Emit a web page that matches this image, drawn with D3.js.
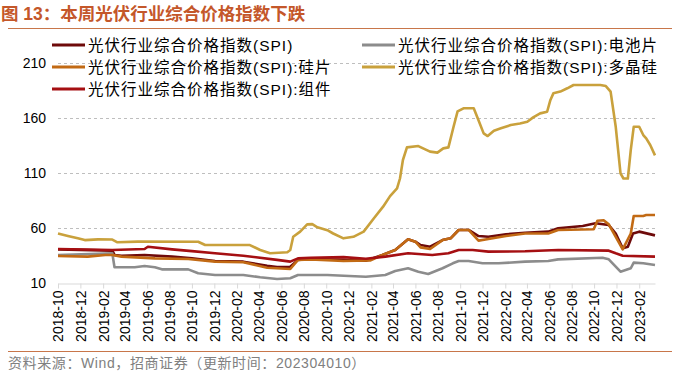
<!DOCTYPE html>
<html>
<head>
<meta charset="utf-8">
<script src="https://cdn.jsdelivr.net/npm/d3@7"></script>
<style>
  body { margin: 0; background: #fff; }
  svg { display: block; }
  text { font-family: "Liberation Sans", "Noto Sans CJK SC", sans-serif; }
</style>
</head>
<body>
<div id="chart"></div>
<script>
// dados (data, valor)
const spiTotal = [
  ["2018-10-01",40.6],["2019-02-26",39.4],["2019-03-04",35.5],["2019-03-23",34.8],["2019-05-25",35.5],
  ["2019-08-08",34],["2019-10-01",32.4],["2019-12-03",30],["2020-02-18",29.4],["2020-04-23",25.7],
  ["2020-05-20",24.6],["2020-06-25",24.8],["2020-07-16",31],["2020-08-19",31.8],["2020-11-17",31],
  ["2021-01-17",30.3],["2021-03-03",35.5],["2021-04-07",40],["2021-05-12",49.7],["2021-06-01",47.6],
  ["2021-06-15",44.5],["2021-07-11",43],["2021-08-14",49],["2021-09-05",50.6],["2021-09-27",58.2],
  ["2021-10-24",58.2],["2021-11-20",52.7],["2021-12-17",52],["2022-02-03",54.3],["2022-03-27",55.7],
  ["2022-05-29",56.7],["2022-06-25",59.7],["2022-08-31",61.8],["2022-10-05",64.3],["2022-11-10",62.7],
  ["2022-11-29",55],["2022-12-18",41.5],["2023-01-01",43],["2023-01-15",55],["2023-02-01",56.7],
  ["2023-03-16",53.3]
];

const spiCell = [
  ["2018-10-01",35.5],["2019-02-26",37],["2019-03-04",24.3],["2019-04-28",24.3],["2019-05-25",25.5],
  ["2019-06-22",24.3],["2019-07-11",22.4],["2019-09-21",22.4],["2019-10-18",18.8],["2019-12-03",17.3],
  ["2020-02-18",17.3],["2020-04-04",15.2],["2020-05-20",13.6],["2020-06-25",14.3],["2020-07-16",17.3],
  ["2020-10-04",17.3],["2021-01-17",15.7],["2021-03-11",17.3],["2021-04-07",20.9],["2021-05-12",23.4],
  ["2021-06-09",20.3],["2021-07-06",18.2],["2021-08-14",23.4],["2021-09-11",27.9],["2021-09-27",30],
  ["2021-10-24",30],["2021-12-01",27.9],["2022-01-14",27.9],["2022-03-27",29.4],["2022-05-29",30],
  ["2022-06-25",31.5],["2022-10-24",33],["2022-11-10",31.5],["2022-12-12",20.3],["2022-12-26",21.8],
  ["2023-01-09",23.4],["2023-01-17",28.5],["2023-02-12",27.9],["2023-03-16",26.4]
];

const spiWafer = [
  ["2018-10-01",34.5],["2018-12-21",34],["2019-02-07",35.5],["2019-02-26",35.5],["2019-03-23",34],
  ["2019-06-22",32.4],["2019-09-21",31.8],["2019-12-03",29.4],["2020-02-18",28.8],["2020-04-23",23.9],
  ["2020-06-25",22.7],["2020-07-16",31],["2020-08-19",31.5],["2020-11-17",30],["2021-01-30",30.6],
  ["2021-03-03",35.5],["2021-04-07",40],["2021-05-12",49.7],["2021-06-01",47.6],["2021-06-15",42.4],
  ["2021-07-11",40.9],["2021-08-14",49],["2021-09-05",50.6],["2021-09-27",58.2],["2021-10-24",58.2],
  ["2021-11-20",48.5],["2021-12-17",50],["2022-02-03",52.7],["2022-03-27",55],["2022-05-29",55],
  ["2022-06-25",58.2],["2022-09-30",58.8],["2022-10-10",66.6],["2022-10-27",67],["2022-11-10",63.3],
  ["2022-11-29",52],["2022-12-18",40.6],["2023-01-09",55],["2023-01-17",70.9],["2023-02-12",70.9],
  ["2023-02-20",71.8],["2023-03-16",71.8]
];

const spiPoly = [
  ["2018-10-01",55],["2018-10-28",52.7],["2018-11-24",50.6],["2018-12-13",49],["2019-01-18",49.7],
  ["2019-02-26",49.5],["2019-03-12",47],["2019-05-06",47.6],["2019-10-18",47.5],["2019-11-06",44.5],
  ["2020-03-07",44.5],["2020-04-04",40],["2020-05-01",37],["2020-06-17",38],["2020-06-25",40],
  ["2020-07-03",52],["2020-07-22",56.7],["2020-08-10",63.3],["2020-08-24",63.5],["2020-09-07",60.6],
  ["2020-10-04",58],["2020-10-20",55],["2020-11-17",50.6],["2020-12-14",52],["2021-01-11",56.7],
  ["2021-02-08",68.8],["2021-03-05",79.4],["2021-03-24",89],["2021-04-12",96],["2021-04-20",105],
  ["2021-04-28",121.8],["2021-05-09",133.3],["2021-06-09",134.5],["2021-06-22",132.4],["2021-07-11",129.4],
  ["2021-07-31",128.5],["2021-08-16",132.4],["2021-08-30",133.3],["2021-09-13",152],["2021-09-24",166],
  ["2021-10-10",168.8],["2021-11-07",168.8],["2021-11-20",158],["2021-12-04",146],["2021-12-15",143.6],
  ["2022-01-01",148.5],["2022-01-20",150.6],["2022-02-16",153.6],["2022-03-13",155],["2022-04-02",156.6],
  ["2022-04-18",160.6],["2022-05-07",164.2],["2022-05-26",165.7],["2022-06-04",176.4],["2022-06-12",182.4],
  ["2022-07-01",184],["2022-07-20",187],["2022-08-06",190],["2022-10-18",190],["2022-11-02",189],
  ["2022-11-15",184],["2022-11-29",152],["2022-12-12",109.7],["2022-12-20",105],["2023-01-01",105],
  ["2023-01-09",131],["2023-01-17",152],["2023-02-01",152],["2023-02-12",144.5],["2023-02-20",141.5],
  ["2023-03-03",135.5],["2023-03-16",126]
];

const spiModule = [
  ["2018-10-01",40.9],["2019-02-26",40],["2019-05-25",40.9],["2019-06-03",43],["2019-08-08",40.6],
  ["2019-10-01",39],["2019-12-03",37],["2020-02-18",34.8],["2020-05-20",31],["2020-06-25",29.4],
  ["2020-07-16",32.4],["2020-08-19",33],["2020-11-17",33.5],["2021-01-17",32],["2021-03-11",34],
  ["2021-05-12",37],["2021-07-17",35.5],["2021-08-30",37],["2021-09-27",40],["2021-11-04",40],
  ["2021-12-17",38.5],["2022-03-27",38.8],["2022-06-25",40],["2022-11-10",39.4],["2022-11-29",37],
  ["2022-12-18",34.8],["2023-03-16",34]
];

const seriesNames = [
  "光伏行业综合价格指数(SPI)",
  "光伏行业综合价格指数(SPI):电池片",
  "光伏行业综合价格指数(SPI):硅片",
  "光伏行业综合价格指数(SPI):多晶硅",
  "光伏行业综合价格指数(SPI):组件"
];
const seriesData = [spiTotal, spiCell, spiWafer, spiPoly, spiModule];
const seriesColors = ["#6E0A0A", "#8C8C8C", "#C26A14", "#C9A13C", "#A50F12"];

const yTicks = [10, 60, 110, 160, 210];
const xStart = "2018-10-01";
const xEnd = "2023-03-16";

const width = 676;
const height = 373;
const parse = d3.timeParse("%Y-%m-%d");

const svg = d3.select("#chart")
  .append("svg")
  .attr("width", width)
  .attr("height", height);

// título e linhas de separação
svg.append("text")
  .attr("x", 1)
  .attr("y", 20)
  .attr("fill", "#C4572A")
  .attr("font-size", 17.5)
  .attr("font-weight", "bold")
  .attr("font-family", "'Noto Sans CJK SC', sans-serif")
  .text("图 13：本周光伏行业综合价格指数下跌");

svg.append("line")
  .attr("x1", 8).attr("x2", 672)
  .attr("y1", 28.5).attr("y2", 28.5)
  .attr("stroke", "#C8764A")
  .attr("stroke-width", 1.2);

svg.append("line")
  .attr("x1", 8).attr("x2", 672)
  .attr("y1", 351.5).attr("y2", 351.5)
  .attr("stroke", "#C8764A")
  .attr("stroke-width", 1.2);

svg.append("text")
  .attr("x", 8)
  .attr("y", 368)
  .attr("fill", "#808080")
  .attr("font-size", 14)
  .attr("letter-spacing", 0.6)
  .attr("font-family", "'Noto Sans CJK SC', sans-serif")
  .text("资料来源：Wind，招商证券（更新时间：202304010）");

// escalas
const x = d3.scaleTime()
  .domain([parse(xStart), parse(xEnd)])
  .range([58, 655]);

const y = d3.scaleLinear()
  .domain([10, 210])
  .range([283, 63]);

// grade tracejada
svg.append("g")
  .selectAll("line")
  .data(yTicks.filter((d) => d !== 10))
  .enter()
  .append("line")
  .attr("x1", 58)
  .attr("x2", 655)
  .attr("y1", (d) => Math.round(y(d)) + 0.5)
  .attr("y2", (d) => Math.round(y(d)) + 0.5)
  .attr("stroke", "#BEBEBE")
  .attr("stroke-dasharray", "3,3");

// eixo y (só os rótulos)
const yAxis = svg.append("g")
  .attr("transform", "translate(52,0)")
  .call(d3.axisLeft(y).tickValues(yTicks).tickSize(0).tickPadding(6));
yAxis.select(".domain").remove();
yAxis.selectAll("text")
  .attr("font-size", 14)
  .attr("fill", "#000")
  .attr("font-family", "'Liberation Sans', sans-serif");

// eixo x com ticks a cada 2 meses
const xTicks = d3.timeMonth.range(parse(xStart), parse(xEnd), 2);
const xAxis = svg.append("g")
  .attr("transform", `translate(0,${Math.round(y(10)) + 0.5})`)
  .call(
    d3.axisBottom(x)
      .tickValues(xTicks)
      .tickFormat(d3.timeFormat("%Y-%m"))
      .tickSize(5)
      .tickSizeOuter(0)
  );
xAxis.select(".domain").attr("stroke", "#D9D9D9");
xAxis.selectAll(".tick line").attr("stroke", "#D9D9D9");
xAxis.selectAll("text")
  .attr("font-size", 14)
  .attr("fill", "#000")
  .attr("font-family", "'Liberation Sans', sans-serif")
  .attr("text-anchor", "end")
  .attr("transform", "rotate(-90)")
  .attr("x", -7)
  .attr("y", 0)
  .attr("dy", "0.35em");

// linhas das séries
const line = d3.line()
  .x((d) => x(parse(d[0])))
  .y((d) => y(d[1]));

svg.append("g")
  .selectAll("path")
  .data(seriesData)
  .enter()
  .append("path")
  .attr("d", line)
  .attr("fill", "none")
  .attr("stroke", (d, i) => seriesColors[i])
  .attr("stroke-width", 2.6)
  .attr("stroke-linejoin", "round");

// legenda em duas colunas
const legendPos = [
  [52, 45], [362, 45],
  [52, 67], [362, 67],
  [52, 89]
];

const legend = svg.append("g")
  .selectAll("g")
  .data(seriesNames)
  .enter()
  .append("g")
  .attr("transform", (d, i) => `translate(${legendPos[i][0]},${legendPos[i][1]})`);

legend.append("line")
  .attr("x1", 0)
  .attr("x2", 33)
  .attr("stroke", (d, i) => seriesColors[i])
  .attr("stroke-width", 3);

legend.append("text")
  .attr("x", 36)
  .attr("dy", "0.36em")
  .attr("font-size", 15.5)
  .attr("letter-spacing", 1)
  .attr("fill", "#000")
  .text((d) => d);
</script>
</body>
</html>
